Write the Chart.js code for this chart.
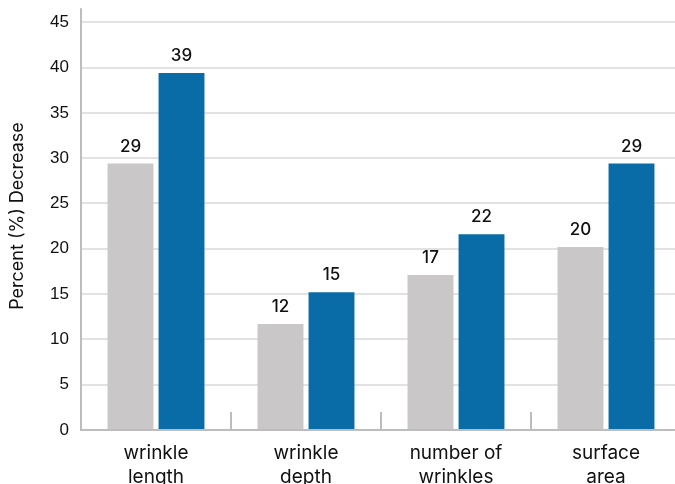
<!DOCTYPE html>
<html>
<head>
<meta charset="utf-8">
<script src="https://cdn.jsdelivr.net/npm/chart.js@4.4.0/dist/chart.umd.min.js"></script>
<style>
html,body{margin:0;padding:0;background:#fff;overflow:hidden;width:675px;height:484px;}
#wrap{position:absolute;left:0;top:0;width:690px;height:484px;}
</style>
</head>
<body>
<div id="wrap"><canvas id="c"></canvas></div>
<script>
const categories = [["wrinkle","length"],["wrinkle","depth"],["number of","wrinkles"],["surface","area"]];
const seriesGray = [29.4, 11.7, 17.1, 20.2];
const seriesBlue = [39.4, 15.2, 21.6, 29.4];
const yTicks = [0,5,10,15,20,25,30,35,40,45];
const yTitle = "Percent (%) Decrease";

const extras = {
  id: 'extras',
  afterDatasetsDraw(chart) {
    const ctx = chart.ctx;
    ctx.save();
    ctx.fillStyle = '#111';
    ctx.font = '500 17px Inter';
    ctx.textAlign = 'center';
    ctx.textBaseline = 'alphabetic';
    chart.data.datasets.forEach((ds, di) => {
      chart.getDatasetMeta(di).data.forEach((bar, i) => {
        ctx.fillText(String(Math.round(ds.data[i])), bar.x, bar.y - 12);
      });
    });
    const x = chart.scales.x, y = chart.scales.y;
    const base = y.getPixelForValue(0);
    ctx.strokeStyle = '#bdbdbd';
    ctx.lineWidth = 2;
    for (let i = 0; i < categories.length - 1; i++) {
      const px = (x.getPixelForValue(i) + x.getPixelForValue(i + 1)) / 2;
      ctx.beginPath();
      ctx.moveTo(px, base);
      ctx.lineTo(px, base - 18);
      ctx.stroke();
    }
    ctx.beginPath();
    ctx.moveTo(chart.chartArea.left, base);
    ctx.lineTo(chart.chartArea.left, chart.chartArea.top - 14);
    ctx.stroke();
    ctx.translate(18, 216);
    ctx.rotate(-Math.PI / 2);
    ctx.font = '400 18px Inter';
    ctx.fillStyle = '#111';
    ctx.textBaseline = 'middle';
    ctx.fillText(yTitle, 0, 0);
    ctx.restore();
  }
};

new Chart(document.getElementById('c'), {
  type: 'bar',
  data: {
    labels: categories,
    datasets: [
      { data: seriesGray, backgroundColor: '#c9c7c8', categoryPercentage: 0.68, barPercentage: 0.9 },
      { data: seriesBlue, backgroundColor: '#0a6ca6', categoryPercentage: 0.68, barPercentage: 0.9 }
    ]
  },
  options: {
    responsive: true,
    maintainAspectRatio: false,
    animation: false,
    layout: { padding: { top: 22, right: 9, left: 0, bottom: 0 } },
    plugins: { legend: { display: false }, tooltip: { enabled: false } },
    scales: {
      x: {
        grid: { display: true, drawOnChartArea: false, drawTicks: false },
        border: { display: true, color: '#bdbdbd', width: 2 },
        ticks: { color: '#111', font: { family: 'Inter', size: 19, lineHeight: 1.26 }, padding: 11, maxRotation: 0, autoSkip: false },
        afterFit(s) { s.height = 54; }
      },
      y: {
        min: 0, max: 45,
        afterBuildTicks(s) { s.ticks = yTicks.map(v => ({ value: v })); },
        grid: { color: '#e2e2e2', lineWidth: 2, drawTicks: false },
        border: { display: true, color: '#bdbdbd', width: 2 },
        ticks: { color: '#111', font: { family: 'Liberation Sans', size: 17 }, padding: 12 },
        afterFit(s) { s.width = 81; }
      }
    }
  },
  plugins: [extras]
});
</script>
</body>
</html>
